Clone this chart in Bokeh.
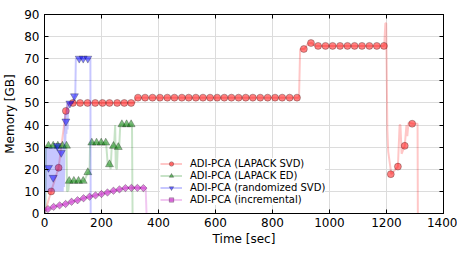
from math import pi
from bokeh.plotting import figure
from bokeh.models import LinearAxis, FixedTicker, Legend, LegendItem, Range1d
from bokeh.embed import file_html
from bokeh.resources import INLINE

# ---------------- data ----------------
x_ticks = [0, 200, 400, 600, 800, 1000, 1200, 1400]
y_ticks = [0, 10, 20, 30, 40, 50, 60, 70, 80, 90]

labels = ["ADI-PCA (LAPACK SVD)", "ADI-PCA (LAPACK ED)",
          "ADI-PCA (randomized SVD)", "ADI-PCA (incremental)"]

# LAPACK SVD (red)
red_line_t = [0, 23.5, 49.5, 75, 84, 316, 320, 893, 897, 912,
              925, 938, 950, 1192, 1196, 1199, 1203, 1206, 1217, 1240,
              1246, 1249, 1253, 1264, 1270, 1273, 1277, 1293, 1309, 1310]
red_line_m = [0, 10, 20.7, 46.4, 50, 50, 52.4, 52.4, 74.4, 74.4,
              77, 77.1, 75.8, 75.8, 86, 86, 38, 28, 17.8, 21.2,
              40, 40, 27, 30.6, 40, 35, 41, 40.6, 40.6, 0]
red_mark_t = [23.5, 49.5, 75, 99.5, 125, 151, 178, 203.5, 228, 255,
              280, 304, 328, 353, 379, 405, 431, 456, 482, 506,
              531, 556, 581, 606, 631, 656, 681, 706, 731, 757,
              783, 809, 834, 860, 886, 910, 935, 960, 986, 1011,
              1037, 1063, 1088, 1114, 1140, 1166, 1191, 1215, 1240, 1264,
              1290]
red_mark_m = [10, 20.7, 46.4, 50, 50, 50, 50, 50, 50, 50,
              50, 50, 52.4, 52.4, 52.4, 52.4, 52.4, 52.4, 52.4, 52.4,
              52.4, 52.4, 52.4, 52.4, 52.4, 52.4, 52.4, 52.4, 52.4, 52.4,
              52.4, 52.4, 52.4, 52.4, 52.4, 74.4, 77.1, 75.8, 75.8, 75.8,
              75.8, 75.8, 75.8, 75.8, 75.8, 75.8, 75.8, 17.8, 21.2, 30.6,
              40.6]

# LAPACK ED (green)
green_line_t = [0, 4, 5, 77.2, 79, 84, 86.6, 140, 152, 158,
                160, 216, 222, 228, 232, 236, 244, 248, 250, 254,
                257, 262, 266, 307, 309]
green_line_m = [0, 0, 30.6, 30.6, 10, 10.5, 14.7, 14.7, 18.6, 18,
                32, 32, 22, 22.2, 20, 30.5, 30.5, 40, 21, 20,
                30, 30, 40.3, 40.3, 0]
green_mark_t = [14, 30.5, 46.8, 63.2, 77.2, 86.6, 103, 119.4, 135.8, 152,
                166, 182.6, 199, 215, 228, 242, 258.8, 271.5, 288, 304]
green_mark_m = [30.6, 30.6, 30.6, 30.6, 30.6, 14.7, 14.7, 14.7, 14.7, 18.6,
                32, 32, 32, 32, 22.2, 30.5, 30, 40.3, 40.3, 40.3]

# randomized SVD (blue)
blue_line_t = [0, 3, 4, 6, 8, 10, 12, 14, 16, 18,
               20, 22, 24, 26, 28, 30, 32, 34, 36, 38,
               40, 42, 44, 46, 48, 50, 52, 54, 56, 58,
               60, 62, 64, 66, 68, 70, 72, 73, 75, 77,
               79, 81, 83, 85, 89, 100, 105, 108, 110, 122,
               136, 152, 161, 162]
blue_line_m = [0, 22, 30, 10, 30, 10, 30, 20.7, 10, 30,
               10, 30, 10, 30, 10, 16.2, 30, 10, 30, 10,
               30, 10, 30.6, 10, 30, 10, 30, 10, 30, 27.5,
               10, 30, 10, 30, 12, 30, 45, 32, 41.7, 36,
               50, 38, 50, 50, 49.8, 50, 53.1, 53, 70, 70.1,
               70.1, 70.1, 70, 0]
blue_mark_t = [14, 30.5, 44.6, 58.7, 75, 89, 105, 121.8, 135.8, 152]
blue_mark_m = [20.7, 16.2, 30.6, 27.5, 41.7, 49.8, 53.1, 70.1, 70.1, 70.1]

# incremental (magenta)
pink_line_t = [0, 3, 12, 32, 53, 74, 95, 116, 137, 158,
               179, 200, 221, 242, 263, 284, 305, 326, 347, 355, 358]
pink_line_m = [0, 1.5, 2.0, 3.0, 3.7, 4.3, 5.3, 6.0, 6.9, 7.6,
               8.2, 8.8, 9.5, 10.3, 10.9, 11.5, 11.6, 11.6, 11.5, 11.5, 0]
pink_mark_t = [12, 32, 53, 74, 95, 116, 137, 158, 179, 200,
               221, 242, 263, 284, 305, 326, 347]
pink_mark_m = [2.0, 3.0, 3.7, 4.3, 5.3, 6.0, 6.9, 7.6, 8.2, 8.8,
               9.5, 10.3, 10.9, 11.5, 11.6, 11.6, 11.5]

# ---------------- figure ----------------
FONT = "DejaVu Sans"
p = figure(frame_width=399, frame_height=199, output_backend="svg", toolbar_location=None,
           x_range=Range1d(0, 1400), y_range=Range1d(0, 90),
           min_border_left=38, min_border_right=14, min_border_top=14,
           min_border_bottom=30)
p.background_fill_color = "white"
p.border_fill_color = "white"
p.outline_line_color = "black"
p.outline_line_width = 1

p.xaxis.ticker = FixedTicker(ticks=x_ticks)
p.yaxis.ticker = FixedTicker(ticks=y_ticks)
p.xaxis.axis_label = "Time [sec]"
p.yaxis.axis_label = "Memory [GB]"
for ax in (p.xaxis, p.yaxis):
    ax.axis_label_text_font = FONT
    ax.axis_label_text_font_size = "12px"
    ax.axis_label_text_font_style = "normal"
    ax.axis_label_text_color = "black"
    ax.major_label_text_font = FONT
    ax.major_label_text_font_size = "12px"
    ax.major_label_text_color = "black"
    ax.major_tick_in = 4
    ax.major_tick_out = 0
    ax.minor_tick_line_color = None
    ax.axis_line_color = "black"
    ax.major_tick_line_color = "black"
p.xaxis.major_label_standoff = 4
p.xaxis.axis_label_standoff = 2
p.yaxis.major_label_standoff = 5
p.yaxis.axis_label_standoff = 4

for loc, tk in (("right", y_ticks), ("above", x_ticks)):
    extra = LinearAxis(ticker=FixedTicker(ticks=tk), major_label_text_font_size="1px",
                       major_label_text_color=None,
                       major_tick_in=4, major_tick_out=0, minor_tick_line_color=None,
                       major_label_standoff=0, axis_line_color="black",
                       major_tick_line_color="black")
    p.add_layout(extra, loc)

p.xgrid.ticker = FixedTicker(ticks=x_ticks)
p.ygrid.ticker = FixedTicker(ticks=y_ticks)
p.grid.grid_line_color = "#dcdcdc"
p.grid.grid_line_width = 1

series = [
    (red_line_t, red_line_m, red_mark_t, red_mark_m, "#ff0000", "circle", 7, 0),
    (green_line_t, green_line_m, green_mark_t, green_mark_m, "#008000", "triangle", 8, 0),
    (blue_line_t, blue_line_m, blue_mark_t, blue_mark_m, "#0000ff", "inverted_triangle", 8, 0),
    (pink_line_t, pink_line_m, pink_mark_t, pink_mark_m, "#bf00bf", "square", 5.2, pi / 4),
]

items = []
for (lt, lm, mt, mm, col, mk, sz, ang), lab in zip(series, labels):
    lr = p.line(lt, lm, line_color=col, line_alpha=0.22, line_width=2)
    sr = p.scatter(mt, mm, marker=mk, size=sz, angle=ang, fill_color=col,
                   fill_alpha=0.5, line_color="black", line_alpha=0.45, line_width=0.6)
    items.append(LegendItem(label=lab, renderers=[lr, sr]))

legend = Legend(items=items, location=(116, 8), orientation="vertical",
                label_text_font=FONT, label_text_font_size="10px",
                label_text_color="black", glyph_width=22, glyph_height=11,
                label_height=11, spacing=1, padding=2, margin=0,
                label_standoff=8, border_line_color=None,
                background_fill_color="white", background_fill_alpha=1)
p.add_layout(legend, "center")

open("out.html", "w").write(file_html(p, INLINE))
